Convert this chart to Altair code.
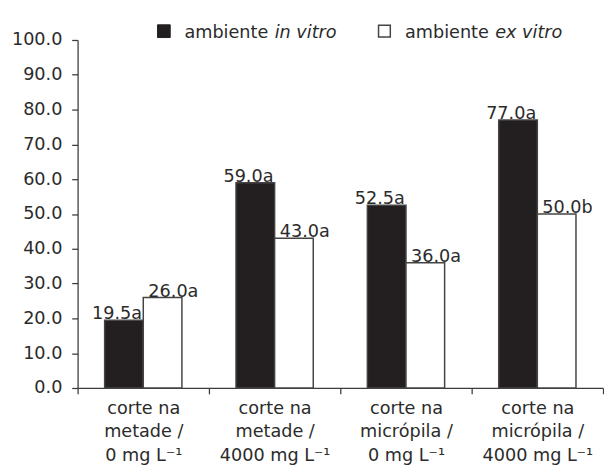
import altair as alt
import pandas as pd

categories = [
    "corte na|metade /|0 mg L⁻¹",
    "corte na|metade /|4000 mg L⁻¹",
    "corte na|micrópila /|0 mg L⁻¹",
    "corte na|micrópila /|4000 mg L⁻¹",
]
series = ["ambiente in vitro", "ambiente ex vitro"]
in_vitro = [19.5, 59.0, 52.5, 77.0]
ex_vitro = [26.0, 43.0, 36.0, 50.0]
letters_in = ["a", "a", "a", "a"]
letters_ex = ["a", "a", "a", "b"]
y_ticks = [0, 10, 20, 30, 40, 50, 60, 70, 80, 90, 100]

rows = []
for i, c in enumerate(categories):
    rows.append(dict(cat=c, serie=series[0], val=in_vitro[i], lab=f"{in_vitro[i]:.1f}{letters_in[i]}"))
    rows.append(dict(cat=c, serie=series[1], val=ex_vitro[i], lab=f"{ex_vitro[i]:.1f}{letters_ex[i]}"))
df = pd.DataFrame(rows)

FONT = "DejaVu Sans"
INK = "#231f20"
TXT = "#2b2b2b"
AX = "#3c3c3c"
FS = 18

x = alt.X(
    "cat:N", sort=categories,
    scale=alt.Scale(paddingInner=0, paddingOuter=0),
    axis=alt.Axis(
        title=None, labelAngle=0, labelExpr="split(datum.label, '|')",
        tickBand="extent", tickSize=6, labelPadding=20, labelLineHeight=24,
        labelFontSize=FS, labelFont=FONT, labelColor=TXT, domainColor=AX,
        tickColor=AX, labelBaseline="alphabetic", domainWidth=1.3, tickWidth=1.3,
    ),
)
xo = alt.XOffset("serie:N", sort=series,
                 scale=alt.Scale(paddingInner=0, paddingOuter=0.7, align=0.5))
y = alt.Y(
    "val:Q", scale=alt.Scale(domain=[0, 100], nice=False),
    axis=alt.Axis(
        title=None, values=y_ticks, format=".1f", grid=False,
        tickSize=6, labelPadding=10, labelFontSize=FS, labelFont=FONT,
        labelColor=TXT, domainColor=AX, tickColor=AX, domainWidth=1.3, tickWidth=1.3,
    ),
)
color = alt.Color("serie:N", sort=series,
                  scale=alt.Scale(domain=series, range=[INK, "#ffffff"]), legend=None)

bars = alt.Chart(df).mark_bar(stroke="#444444", strokeWidth=1.5).encode(
    x=x, xOffset=xo, y=y, color=color)

lab_in = alt.Chart(df).transform_filter(alt.datum.serie == series[0]).mark_text(
    dx=-7, dy=-1, baseline="alphabetic", font=FONT, fontSize=FS, color=TXT
).encode(x=x, xOffset=xo, y=y, text="lab:N")
lab_ex = alt.Chart(df).transform_filter(alt.datum.serie == series[1]).mark_text(
    dx=11, dy=-1, baseline="alphabetic", font=FONT, fontSize=FS, color=TXT
).encode(x=x, xOffset=xo, y=y, text="lab:N")

def leg_text(t, px, italic=False):
    return alt.Chart(pd.DataFrame({"t": [t]})).mark_text(
        align="left", baseline="alphabetic", font=FONT, fontSize=FS, color=TXT,
        fontStyle="italic" if italic else "normal",
    ).encode(x=alt.value(px), y=alt.value(-2), text="t:N")

sq_in = alt.Chart(pd.DataFrame({"s": [series[0]]})).mark_square(
    size=169, filled=True, fill=INK, stroke=INK, strokeWidth=1, opacity=1
).encode(x=alt.value(88), y=alt.value(-9))
sq_ex = alt.Chart(pd.DataFrame({"s": [series[1]]})).mark_square(
    size=144, filled=True, fill="#ffffff", stroke="#444444", strokeWidth=1.5, opacity=1
).encode(x=alt.value(313), y=alt.value(-9))

chart = alt.layer(
    bars, lab_in, lab_ex, sq_in, sq_ex,
    leg_text("ambiente", 109), leg_text("in vitro", 201, True),
    leg_text("ambiente", 334), leg_text("ex vitro", 426, True),
).properties(
    width=536, height=355,
    padding={"left": 3, "top": 10, "right": 0, "bottom": 0},
).configure_view(stroke=None)

chart.save("out.html", embed_options={"renderer": "svg", "actions": False})
